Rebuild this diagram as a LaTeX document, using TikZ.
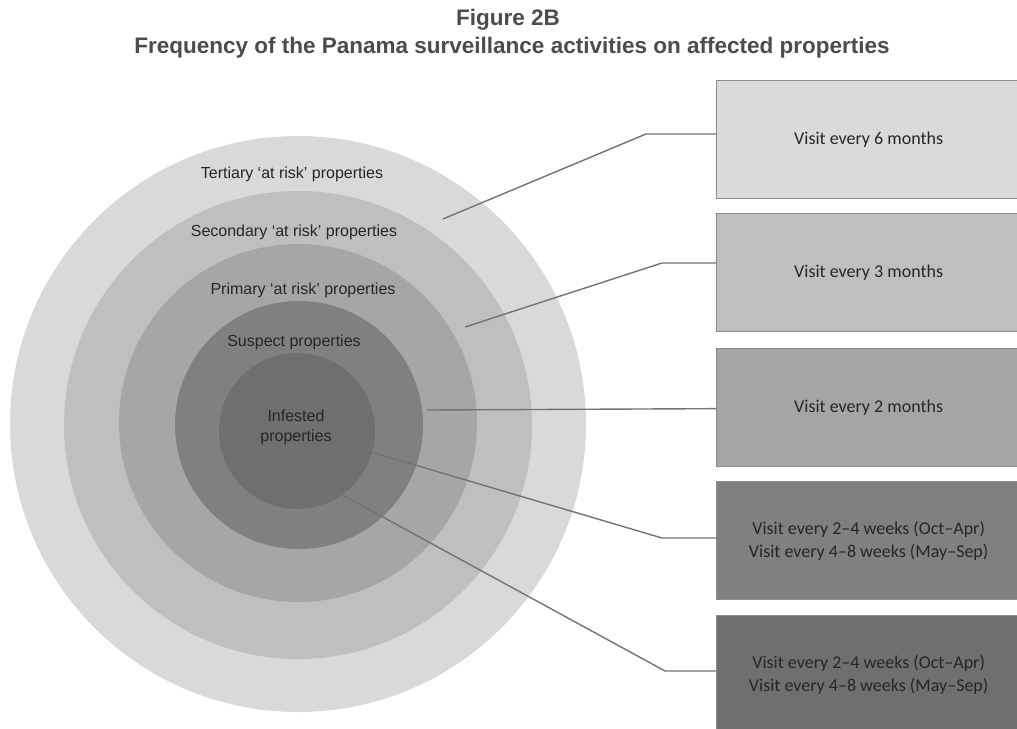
\documentclass[tikz,border=0pt]{standalone}
\usepackage{fontspec}
\setmainfont{Liberation Sans}
\newfontfamily\boxfont{Carlito}
\begin{document}
\begin{tikzpicture}[x=1pt,y=-1pt,
  ringlabel/.style={font=\fontsize{16}{20}\selectfont,text=black!85,align=center,inner sep=0pt},
  freqbox/.style={draw=black!45,line width=1.3pt,minimum width=304pt,minimum height=118pt,
                  inner sep=0pt,anchor=north west,font=\boxfont\fontsize{18}{22.5}\selectfont,
                  text=black!85,align=center},
  leader/.style={draw=black!55,line width=1.4pt},
  titlefont/.style={font=\bfseries\fontsize{22.5}{26}\selectfont,text=black!70}]
\useasboundingbox (0,0) rectangle (1017,728);
\clip (0,0) rectangle (1017,728);
\fill[white] (0,0) rectangle (1017,728);

% title
\node[titlefont] (t1) at (508,20) {Figure 2B};
\node[titlefont] (t2) at (512,48) {Frequency of the Panama surveillance activities on affected properties};

% concentric zones
\fill[fill={rgb,255:red,217;green,217;blue,219}] (298,424) circle (288);
\fill[fill={rgb,255:red,191;green,191;blue,193}] (298,425) circle (234);
\fill[fill={rgb,255:red,166;green,166;blue,168}] (298,423) circle (179);
\fill[fill={rgb,255:red,128;green,128;blue,130}] (299,425) circle (124);
\fill[fill={rgb,255:red,111;green,111;blue,113}] (297,431) circle (78);

\node[ringlabel] (tert) at (292,174) {Tertiary ‘at risk’ properties};
\node[ringlabel] (sec)  at (294,232) {Secondary ‘at risk’ properties};
\node[ringlabel] (prim) at (303,290) {Primary ‘at risk’ properties};
\node[ringlabel] (susp) at (294,342) {Suspect properties};
\node[ringlabel] (inf)  at (296,427) {Infested\\properties};

% frequency boxes
\node[freqbox,fill={rgb,255:red,218;green,218;blue,220}] (b1) at (716,80) {Visit every 6 months};
\node[freqbox,fill={rgb,255:red,191;green,191;blue,193}] (b2) at (716,213) {Visit every 3 months};
\node[freqbox,fill={rgb,255:red,165;green,165;blue,167}] (b3) at (716,348) {Visit every 2 months};
\node[freqbox,fill={rgb,255:red,128;green,128;blue,130}] (b4) at (716,481) {Visit every 2–4 weeks (Oct–Apr)\\Visit every 4–8 weeks (May–Sep)};
\node[freqbox,fill={rgb,255:red,111;green,111;blue,113}] (b5) at (716,615) {Visit every 2–4 weeks (Oct–Apr)\\Visit every 4–8 weeks (May–Sep)};

% leader lines
\coordinate (p1) at (443,219);
\coordinate (k1) at (646,134);
\coordinate (p2) at (465,327);
\coordinate (k2) at (662,263);
\coordinate (p3) at (427,410);
\coordinate (p4) at (371,452);
\coordinate (k4) at (662,538);
\coordinate (p5) at (337,492);
\coordinate (k5) at (665,671);
\draw[leader] (p1) -- (k1) -- (b1.west |- k1);
\draw[leader] (p2) -- (k2) -- (b2.west |- k2);
\draw[leader] (p3) -- ([yshift=-1pt]b3.west);
\draw[leader] (p4) -- (k4) -- (b4.west |- k4);
\draw[leader] (p5) -- (k5) -- (b5.west |- k5);
\end{tikzpicture}
\end{document}
